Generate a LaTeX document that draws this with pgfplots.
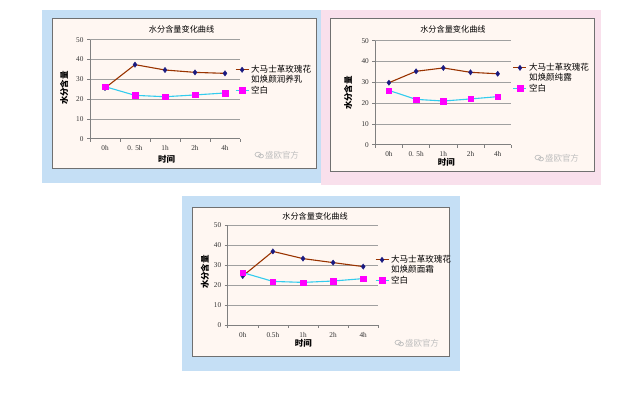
\documentclass[border=0pt]{standalone}
\usepackage{pgfplots}
\pgfplotsset{compat=1.18}
\usepackage{fontspec}
\setmainfont{Liberation Serif}
\newfontfamily\cjk{Noto Sans CJK SC}
\definecolor{bgblue}{HTML}{C5DFF5}
\definecolor{bgpink}{HTML}{F9E0EC}
\definecolor{innerc}{HTML}{FFF7F2}
\definecolor{rosec}{HTML}{993300}
\definecolor{navyc}{HTML}{1A1A80}
\definecolor{cyanc}{HTML}{33CCEE}
\definecolor{magc}{HTML}{FF00FF}
\definecolor{wmc}{HTML}{C0C0C0}
\definecolor{axc}{HTML}{808080}
\definecolor{gridc}{HTML}{A0A0A0}
\definecolor{framec}{HTML}{707070}

\pgfplotsset{
 panel/.style={
  scale only axis,
  xmin=-0.5, xmax=4.5, ymin=0, ymax=50,
  ytick={0,10,20,30,40,50},
  xtick={-0.5,0.5,1.5,2.5,3.5,4.5}, xticklabels={},
  extra x ticks={0,1,2,3,4},
  extra x tick labels={0h,0. 5h,1h,2h,4h},
  extra x tick style={major tick length=0pt},
  axis x line*=bottom, axis y line*=left,
  axis line style={axc, line width=0.8bp},
  tick style={axc, line width=0.6bp},
  major tick length=3bp,
  tick align=outside,
  ymajorgrids, grid style={gridc, line width=0.5bp},
  tick label style={font=\fontsize{7.3}{8}\selectfont, text=black!80},
  /pgf/number format/assume math mode=true,
  xticklabel style={yshift=-3.5bp},
  title={水分含量变化曲线},
  title style={font=\cjk\fontsize{8.2}{9}\selectfont, anchor=center, yshift=-6pt},
  xlabel={时间}, ylabel={水分含量},
  xlabel style={font=\cjk\bfseries\fontsize{8.5}{9}\selectfont, anchor=center},
  ylabel style={font=\cjk\bfseries\fontsize{8.5}{9}\selectfont, anchor=center},
  legend image code/.code={\draw[mark repeat=2,mark phase=2] plot coordinates {(0bp,0bp)(6.5bp,0bp)(13bp,0bp)};},
  legend style={draw=none, fill=none, inner sep=0pt, outer sep=0pt, row sep=-2.5bp,
    cells={anchor=west}, anchor=north west,
    font=\cjk\fontsize{8.6}{9.5}\selectfont},
 },
 rose/.style={rosec, line width=1.1bp, mark=diamond*, mark size=2.7bp, mark options={draw=navyc, fill=navyc, line width=0.3bp}},
 blank/.style={cyanc, line width=1.1bp, mark=square*, mark size=2.7bp, mark options={draw=magc, fill=magc, line width=0.3bp}},
}

\begin{document}
\begin{tikzpicture}
\fill[white] (0bp,0bp) rectangle (623bp,-394bp);
% backgrounds
\fill[bgblue] (42bp,-10bp) rectangle (321bp,-183bp);
\fill[bgpink] (321bp,-10bp) rectangle (601bp,-185bp);
\fill[bgblue] (182bp,-196bp) rectangle (460bp,-371bp);
% frames
\filldraw[fill=innerc, draw=framec, line width=0.8bp] (52.7bp,-18bp) rectangle (316bp,-168bp);
\filldraw[fill=innerc, draw=framec, line width=0.8bp] (330.7bp,-18bp) rectangle (594.7bp,-171bp);
\filldraw[fill=innerc, draw=framec, line width=0.8bp] (192.7bp,-207.3bp) rectangle (449.3bp,-356.3bp);

% Panel 1
\begin{axis}[panel, at={(90bp,-138.7bp)}, anchor=south west, width=150bp, height=99bp,
  title style={at={(axis description cs:0.611,1.101)}},
  ylabel style={at={(axis description cs:-0.173,0.512)}},
  xlabel style={at={(axis description cs:0.511,-0.212)}},
  legend style={at={(axis description cs:0.967,0.76)}}]
\addplot[rose] coordinates {(0,25.6) (1,37.4) (2,34.7) (3,33.5) (4,33.0)};
\addlegendentry{大马士革玫瑰花}
\addlegendimage{empty legend}
\addlegendentry{如焕颜润养乳}
\addplot[blank] coordinates {(0,26.3) (1,21.9) (2,21.2) (3,22.1) (4,23.1)};
\addlegendentry{空白}
\end{axis}

% Panel 2
\begin{axis}[panel, at={(375.3bp,-144.7bp)}, anchor=south west, width=136bp, height=104bp,
  title style={at={(axis description cs:0.571,1.106)}},
  ylabel style={at={(axis description cs:-0.2,0.497)}},
  xlabel style={at={(axis description cs:0.522,-0.166)}},
  legend style={at={(axis description cs:1.012,0.80)}}]
\addplot[rose] coordinates {(0,29.8) (1,35.3) (2,36.9) (3,34.8) (4,34.1)};
\addlegendentry{大马士革玫瑰花}
\addlegendimage{empty legend}
\addlegendentry{如焕颜纯露}
\addplot[blank] coordinates {(0,26.1) (1,21.8) (2,21.0) (3,22.0) (4,23.1)};
\addlegendentry{空白}
\end{axis}

% Panel 3
\begin{axis}[panel, at={(227.7bp,-325bp)}, anchor=south west, width=150.6bp, height=100bp,
  extra x tick labels={0h,0.5h,1h,2h,4h},
  title style={at={(axis description cs:0.58,1.087)}},
  ylabel style={at={(axis description cs:-0.151,0.53)}},
  xlabel style={at={(axis description cs:0.502,-0.183)}},
  legend style={at={(axis description cs:0.978,0.715)}}]
\addplot[rose] coordinates {(0,24.5) (1,36.8) (2,33.2) (3,31.2) (4,29.2)};
\addlegendentry{大马士革玫瑰花}
\addlegendimage{empty legend}
\addlegendentry{如焕颜面霜}
\addplot[blank] coordinates {(0,26.2) (1,21.8) (2,21.3) (3,22.0) (4,23.2)};
\addlegendentry{空白}
\end{axis}

% watermarks
\foreach \x/\y in {282/-155, 562/-158, 422/-343}{
  \node[text=wmc, font=\cjk\fontsize{8.5}{9}\selectfont, anchor=center] at (\x bp,\y bp) {盛欧官方};
  \draw[wmc, line width=0.7bp] ({(\x-24)*1bp},{(\y+0.5)*1bp}) circle[x radius=3bp, y radius=2.3bp];
  \draw[wmc, line width=0.7bp] ({(\x-21)*1bp},{(\y-1)*1bp}) circle[x radius=2.5bp, y radius=1.9bp];
}
\pgfresetboundingbox
\useasboundingbox (0bp,0bp) rectangle (623bp,-394bp);
\end{tikzpicture}
\end{document}
